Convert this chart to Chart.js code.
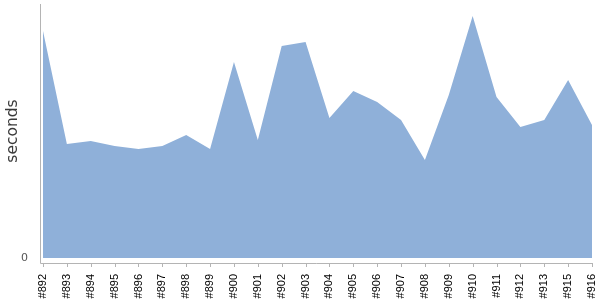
<!DOCTYPE html>
<html>
<head>
<meta charset="utf-8">
<script src="https://cdn.jsdelivr.net/npm/chart.js@4/dist/chart.umd.min.js"></script>
<style>
  html, body { margin: 0; padding: 0; background: #fff; }
  #wrap { width: 600px; height: 300px; }
</style>
</head>
<body>
<div id="wrap"><canvas id="chart" width="600" height="300"></canvas></div>
<script>
// build numbers on the x axis (#914 is missing in the source)
const builds = ['#892', '#893', '#894', '#895', '#896', '#897', '#898', '#899', '#900', '#901',
                '#902', '#903', '#904', '#905', '#906', '#907', '#908', '#909', '#910', '#911',
                '#912', '#913', '#915', '#916'];
// duration per build
const seconds = [227, 114, 117, 112, 109, 112, 123, 109, 196, 118,
                 212, 216, 140, 167, 156, 138, 98, 163, 242, 161,
                 131, 138, 178, 133];
const yTicks = [0];
const yMax = 254;

// axis lines sit a little outside the plot, drawn by hand
const axisLines = {
    id: 'axisLines',
    afterDraw(chart) {
        const ctx = chart.ctx;
        const area = chart.chartArea;
        const x = chart.scales.x;
        ctx.save();
        ctx.strokeStyle = '#b4b4b4';
        ctx.lineWidth = 1;
        ctx.beginPath();
        ctx.moveTo(40.5, area.top);
        ctx.lineTo(40.5, area.bottom + 5.5);
        ctx.lineTo(area.right, area.bottom + 5.5);
        for (let i = 0; i < builds.length; i++) {
            const px = Math.round(x.getPixelForValue(i)) + 0.5;
            ctx.moveTo(px, area.bottom + 5);
            ctx.lineTo(px, area.bottom + 9);
        }
        ctx.stroke();
        ctx.restore();
    }
};

new Chart(document.getElementById('chart'), {
    type: 'line',
    data: {
        labels: builds,
        datasets: [{
            label: 'seconds',
            data: seconds,
            fill: 'origin',
            backgroundColor: 'rgb(143,176,217)',
            borderWidth: 0,
            pointRadius: 0,
            tension: 0
        }]
    },
    options: {
        responsive: false,
        animation: false,
        layout: { padding: { top: 4, right: 8, left: 0, bottom: 0 } },
        plugins: { legend: { display: false }, tooltip: { enabled: false } },
        scales: {
            x: {
                grid: { display: false },
                border: { display: false },
                afterFit: s => { s.height = 42; s.paddingLeft = 0; s.paddingRight = 0; },
                ticks: {
                    autoSkip: false,
                    minRotation: 90,
                    maxRotation: 90,
                    padding: 8,
                    color: '#000',
                    font: { family: 'Liberation Sans', size: 11 }
                }
            },
            y: {
                min: 0,
                max: yMax,
                grid: { display: false },
                border: { display: false },
                afterFit: s => { s.width = 43; s.paddingTop = 0; s.paddingBottom = 0; },
                afterBuildTicks: s => { s.ticks = yTicks.map(v => ({ value: v })); },
                ticks: {
                    padding: 7,
                    color: '#555',
                    font: { family: 'DejaVu Sans', size: 11 }
                },
                title: {
                    display: true,
                    text: 'seconds',
                    color: '#3a3a3a',
                    padding: { top: 4, bottom: 0 },
                    font: { family: 'DejaVu Sans', size: 15.5 }
                }
            }
        }
    },
    plugins: [axisLines]
});
</script>
</body>
</html>
